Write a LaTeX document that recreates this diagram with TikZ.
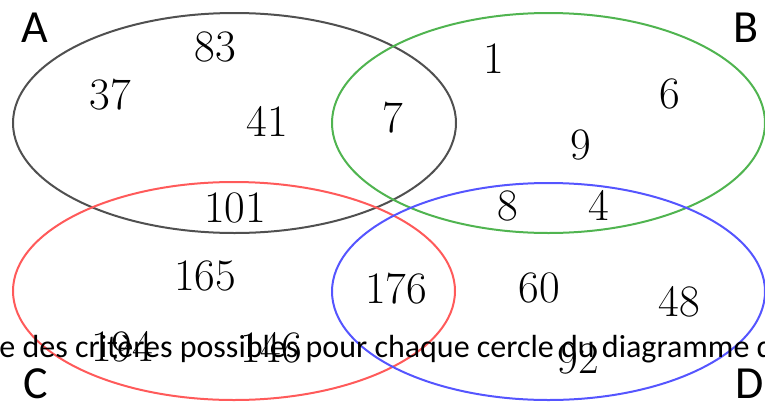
\documentclass[tikz,border=0pt]{standalone}
\usepackage{fontspec}
\newfontfamily\calfont{Carlito}
\usetikzlibrary{positioning}
\definecolor{setA}{RGB}{80,80,80}
\definecolor{setB}{RGB}{80,180,80}
\definecolor{setC}{RGB}{255,90,90}
\definecolor{setD}{RGB}{85,85,255}

\begin{document}
\begin{tikzpicture}[x=0.5pt,y=-0.5pt,
  num/.style={font=\fontsize{22.5}{27}\selectfont},
  setlbl/.style={font=\calfont\fontsize{23}{27}\selectfont},
  ring/.style={line width=1pt}]
\useasboundingbox (0,0) rectangle (765,402);
% the four sets
\draw[ring,setA] (234.5,123) ellipse [x radius=221.5,y radius=110];
\draw[ring,setB] (548.5,123) ellipse [x radius=216.5,y radius=110];
\draw[ring,setC] (234,291) ellipse [x radius=221,y radius=109];
\draw[ring,setD] (548.5,291.5) ellipse [x radius=216.5,y radius=108.5];
\node[setlbl] (lblA) at (35,28) {A};
\node[setlbl] (lblB) at (746,28) {B};
\node[setlbl] (lblC) at (36,384) {C};
\node[setlbl] (lblD) at (750,384) {D};
% counts
\node[num] (n83) at (215,47) {83};
\node[num] (n37) at (110,95) {37};
\node[num] (n41) at (267,121) {41};
\node[num] (n7) at (393,118) {7};
\node[num] (n101) at (235,208) {101};
\node[num] (n1) at (494,59) {1};
\node[num] (n6) at (670,94) {6};
\node[num] (n9) at (581,145) {9};
\node[num] (n8) at (508,206) {8};
\node[num] (n4) at (599,205) {4};
\node[num] (n165) at (205,276) {165};
\node[num] (n176) at (396,289) {176};
\node[num] (n60) at (539,288) {60};
\node[num] (n48) at (679,302) {48};
\node[num] (n194) at (122,347) {194};
\node[num] (n146) at (271,348) {146};
\node[num] (n92) at (578,359) {92};
% caption line lying over the picture
\node[anchor=base west,inner sep=0pt,font=\calfont\fontsize{16}{19}\selectfont] (caption) at (-1,357) {e des critères possibles pour chaque cercle du diagramme d};
\end{tikzpicture}
\end{document}
